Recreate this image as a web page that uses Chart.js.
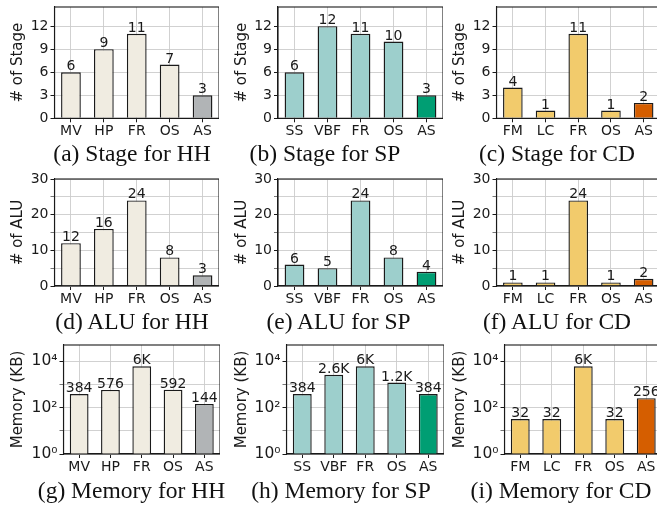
<!DOCTYPE html>
<html><head><meta charset="utf-8">
<script src="https://cdn.jsdelivr.net/npm/chart.js@4/dist/chart.umd.min.js"></script>
<style>
html,body{margin:0;padding:0;background:#fff;overflow:hidden;width:657px;height:506px;}
#wrap{position:relative;width:657px;height:506px;overflow:hidden;}
#wrap canvas{position:absolute;}
.cap{position:absolute;width:300px;text-align:center;font-family:"Liberation Serif","Times New Roman",serif;font-size:23.5px;line-height:1;color:#111;white-space:nowrap;}
</style></head><body><div id="wrap"></div>
<script>
// ---- data ----
const hhCats = ['MV','HP','FR','OS','AS'];
const spCats = ['SS','VBF','FR','OS','AS'];
const cdCats = ['FM','LC','FR','OS','AS'];
const hhStage = [6,9,11,7,3];
const spStage = [6,12,11,10,3];
const cdStage = [4,1,11,1,2];
const hhALU = [12,16,24,8,3];
const spALU = [6,5,24,8,4];
const cdALU = [1,1,24,1,2];
const hhMem = [384,576,6000,592,144];
const spMem = [384,2600,6000,1200,384];
const cdMem = [32,32,6000,32,256];
const stageTicks = [0,3,6,9,12];
const aluTicks = [0,5,10,15,20,25,30];
const aluLabelTicks = [0,10,20,30];
const memTicks = [1,10,100,1000,10000];
const memTickLabels = {1:'10\u2070',100:'10\u00b2',10000:'10\u2074'};
const captions = [
  ['(a) Stage for HH','(b) Stage for SP','(c) Stage for CD'],
  ['(d) ALU for HH','(e) ALU for SP','(f) ALU for CD'],
  ['(g) Memory for HH','(h) Memory for SP','(i) Memory for CD']
];
const hhColors = ['#f0ece1','#f0ece1','#f0ece1','#f0ece1','#b1b4b6'];
const spColors = ['#9dcfcc','#9dcfcc','#9dcfcc','#9dcfcc','#009e73'];
const cdColors = ['#f2cb6c','#f2cb6c','#f2cb6c','#f2cb6c','#d55e00'];

// ---- layout ----
const rows = [
  {T:0,   H:142, plotTop:7,   plotBottom:118.3, spines:[54.5,278,496.5], rights:[219,443,660], capTop:142, capX:[132,325,557]},
  {T:166, H:144, plotTop:179, plotBottom:286,   spines:[54.5,278,496.5], rights:[219,443,660], capTop:310, capX:[132,338.5,557]},
  {T:332, H:146, plotTop:345, plotBottom:454,   spines:[63.5,286.5,504.5], rights:[220,443.5,661.5], capTop:479, capX:[131.5,341,561]}
];
const colL = [0,224,442];

const FONT = '"DejaVu Sans", sans-serif';
const GRID = '#cccccc';
const INK = '#1a1a1a';

const framePlugin = {
  id:'frame',
  afterDatasetsDraw(chart){
    const a = chart.chartArea, ctx = chart.ctx;
    ctx.save(); ctx.strokeStyle = INK; ctx.lineWidth = 1.1;
    ctx.strokeRect(a.left, a.top, a.right-a.left, a.bottom-a.top);
    ctx.restore();
  }
};
const valuePlugin = {
  id:'vals',
  afterDatasetsDraw(chart){
    const ctx = chart.ctx, meta = chart.getDatasetMeta(0), d = chart.data.datasets[0].data;
    ctx.save(); ctx.font = '14px ' + FONT; ctx.fillStyle = INK;
    ctx.textAlign = 'center'; ctx.textBaseline = 'alphabetic';
    meta.data.forEach((bar,i)=>{
      const v = d[i];
      const s = v >= 1000 ? (v/1000) + 'K' : String(v);
      ctx.fillText(s, bar.x, bar.y - 2);
    });
    ctx.restore();
  }
};

function yScale(kind, title){
  const base = {
    position:'left',
    border:{color:INK, width:1.1},
    grid:{color:GRID, borderDash:[1,1.6], lineWidth:0.9, tickColor:INK, tickBorderDash:[], tickLength:4, tickWidth:1},
    ticks:{autoSkip:false, font:{family:FONT,size:14}, color:INK, padding:2},
    title:{display:true, text:title, font:{family:FONT,size:15}, color:INK, padding:{top:9,bottom:0}}
  };
  if(kind==='stage'){
    Object.assign(base,{type:'linear', min:0, max:14.5,
      afterBuildTicks(s){ s.ticks = stageTicks.map(v=>({value:v})); }});
    base.ticks.callback = v => String(v);
  } else if(kind==='alu'){
    Object.assign(base,{type:'linear', min:0, max:30,
      afterBuildTicks(s){ s.ticks = aluTicks.map(v=>({value:v})); }});
    base.ticks.callback = v => aluLabelTicks.includes(v) ? String(v) : '';
    base.grid.tickColor = ctx => (ctx.tick && aluLabelTicks.includes(ctx.tick.value)) ? INK : '#777';
  } else {
    Object.assign(base,{type:'logarithmic', min:1, max:50000,
      afterBuildTicks(s){ s.ticks = memTicks.map(v=>({value:v})); }});
    base.ticks.callback = v => memTickLabels[v] || '';
    base.ticks.font = {family:FONT, size:15.5};
    base.grid.tickColor = ctx => (ctx.tick && memTickLabels[ctx.tick.value]) ? INK : '#777';
  }
  return base;
}

const sets = [
  [[hhCats,hhStage,hhColors],[spCats,spStage,spColors],[cdCats,cdStage,cdColors]],
  [[hhCats,hhALU,hhColors],[spCats,spALU,spColors],[cdCats,cdALU,cdColors]],
  [[hhCats,hhMem,hhColors],[spCats,spMem,spColors],[cdCats,cdMem,cdColors]]
];
const kinds = ['stage','alu','mem'];
const titles = ['# of Stage','# of ALU','Memory (KB)'];

const wrap = document.getElementById('wrap');
rows.forEach((r,ri)=>{
  for(let ci=0; ci<3; ci++){
    const L = colL[ci];
    const W = Math.round(r.rights[ci] - L);
    const cv = document.createElement('canvas');
    cv.width = W; cv.height = r.H;
    cv.style.left = L + 'px'; cv.style.top = r.T + 'px';
    cv.style.width = W + 'px'; cv.style.height = r.H + 'px';
    wrap.appendChild(cv);
    const yw = r.spines[ci] - L;
    const xh = r.H - (r.plotBottom - r.T);
    const [cats, vals, cols] = sets[ri][ci];
    const ys = yScale(kinds[ri], titles[ri]);
    ys.afterFit = s => { s.width = yw; s.paddingTop = 0; s.paddingBottom = 0; };
    new Chart(cv, {
      type:'bar',
      data:{labels:cats, datasets:[{data:vals, backgroundColor:cols, borderColor:INK, borderWidth:1.4,
        barPercentage:0.6, categoryPercentage:1}]},
      options:{
        responsive:false, animation:false, devicePixelRatio:1,
        layout:{padding:{top:r.plotTop - r.T, left:0, right:0, bottom:0}},
        plugins:{legend:{display:false}, tooltip:{enabled:false}},
        scales:{
          x:{type:'category', offset:true,
            border:{color:INK, width:1.1},
            grid:{offset:false, color:GRID, borderDash:[1,1.6], lineWidth:0.9, tickColor:INK, tickBorderDash:[], tickLength:4, tickWidth:1},
            ticks:{font:{family:FONT,size:14}, color:INK, padding:1, maxRotation:0, autoSkip:false},
            afterFit: s => { s.height = xh; s.paddingLeft = 0; s.paddingRight = 0; }
          },
          y: ys
        }
      },
      plugins:[framePlugin, valuePlugin]
    });
    const cap = document.createElement('div');
    cap.className = 'cap';
    cap.textContent = captions[ri][ci];
    cap.style.left = (r.capX[ci] - 150) + 'px';
    cap.style.top = r.capTop + 'px';
    wrap.appendChild(cap);
  }
});
</script></body></html>
